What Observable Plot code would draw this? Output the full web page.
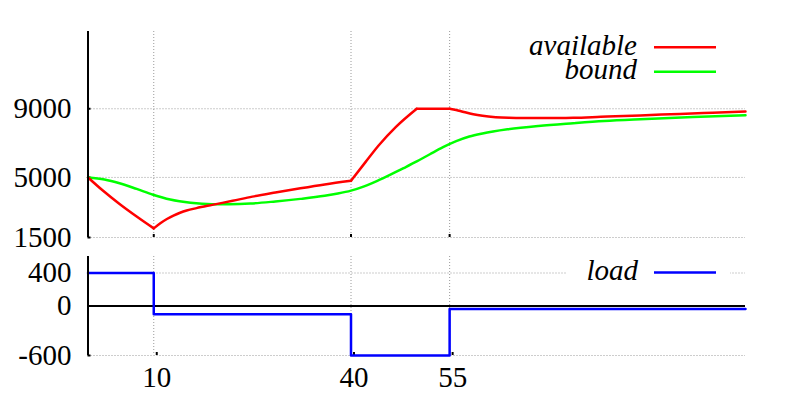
<!DOCTYPE html>
<html><head><meta charset="utf-8">
<script src="https://cdn.jsdelivr.net/npm/d3@7"></script>
<script src="https://cdn.jsdelivr.net/npm/@observablehq/plot@0.6"></script>
<style>
html,body{margin:0;padding:0;background:#fff;}
#chart{position:relative;width:789px;height:395px;overflow:hidden;font-family:"Liberation Serif",serif;}
#chart svg{position:absolute;left:0;}
</style></head><body><div id="chart"></div>
<script>
// ---- data ----
const xTicks = [10, 40, 55];
const topTicks = [1500, 5000, 9000];
const bottomTicks = [-600, 0, 400];
const seriesNames = ["available", "bound", "load"];
const seriesColors = ["#ff0000", "#00ff00", "#0000ff"];

// "available" has kinks at these x values
const availableCorners = [10, 40, 50, 55];
const availableX = [0, 2.3, 4.8, 7.4, 10, 11, 12, 13, 14, 15, 16.5, 18.9, 22, 25, 28.5, 32.3, 36, 40, 42.2, 44.2, 46.8, 50, 55, 56, 57, 58.6, 60, 62, 64, 66.2, 70, 73.8, 78, 84, 90, 95, 100];
const availableY = [5000, 4220, 3450, 2720, 2030, 2330, 2580, 2780, 2940, 3070, 3210, 3400, 3640, 3880, 4120, 4366, 4590, 4800, 5890, 6860, 7930, 9000, 9000, 8930, 8830, 8680, 8590, 8510, 8470, 8455, 8455, 8476, 8530, 8610, 8700, 8770, 8843];

const boundX = [0, 2.5, 4.8, 7.4, 9.9, 12.5, 15.6, 18.9, 21.5, 24.7, 28.5, 32.3, 36, 38, 40, 42, 44, 46, 48, 50, 52, 54, 56, 58, 60, 63.8, 68.5, 73.8, 78.5, 84, 92, 100];
const boundY = [5000, 4880, 4660, 4330, 3990, 3710, 3520, 3440, 3440, 3477, 3600, 3750, 3930, 4060, 4230, 4480, 4800, 5160, 5540, 5930, 6350, 6760, 7110, 7380, 7560, 7800, 8000, 8162, 8290, 8395, 8520, 8627];

const loadX = [0, 10, 40, 55, 100];
const loadY = [400, -100, -600, -35, -35];

// ---- tables ----
const available = [];
availableX.forEach((x, i) => {
  const seg = availableCorners.filter(c => c < x).length;
  available.push({x, y: availableY[i], seg});
  if (availableCorners.includes(x)) available.push({x, y: availableY[i], seg: seg + 1});
});
const bound = boundX.map((x, i) => ({x, y: boundY[i]}));
const load = loadX.map((x, i) => ({x, y: loadY[i]}));

const FONT = '"Liberation Serif", serif';
const grid = {stroke: "#9a9a9a", strokeWidth: 1, strokeDasharray: "1,2"};
const style = {fontFamily: FONT, fontSize: "29px", color: "#000", background: "transparent", overflow: "visible"};

const topPlot = Plot.plot({
  width: 789, height: 245,
  marginLeft: 87.5, marginRight: 44, marginTop: 31, marginBottom: 8,
  style,
  x: {domain: [0, 100]},
  y: {domain: [1500, 13500]},
  marks: [
    Plot.ruleY(topTicks, grid),
    Plot.ruleX(xTicks, grid),
    Plot.axisY(topTicks, {tickSize: -3, tickPadding: 19.5, strokeWidth: 2, tickFormat: d => String(d), label: null}),
    Plot.axisX(xTicks, {tickSize: -3, strokeWidth: 2, tickFormat: () => "", label: null}),
    Plot.line(bound, {x: "x", y: "y", stroke: seriesColors[1], strokeWidth: 2.5, curve: "monotone-x"}),
    Plot.line(available, {x: "x", y: "y", z: "seg", stroke: seriesColors[0], strokeWidth: 2.5, curve: "monotone-x"}),
    Plot.ruleX([0], {stroke: "#000", strokeWidth: 2})
  ]
});
topPlot.style.top = "0px";

const bottomPlot = Plot.plot({
  width: 789, height: 150,
  marginLeft: 87.5, marginRight: 44, marginTop: 11, marginBottom: 40,
  style,
  x: {domain: [0, 100]},
  y: {domain: [-600, 600]},
  marks: [
    Plot.ruleY(bottomTicks.filter(d => d !== 0), grid),
    Plot.ruleX(xTicks, grid),
    Plot.axisY(bottomTicks, {tickSize: -3, tickPadding: 19.5, strokeWidth: 2, tickFormat: d => String(d), label: null}),
    Plot.axisX(xTicks, {tickSize: -3, tickPadding: 14.4, strokeWidth: 2, dx: 3, tickFormat: d => String(d), label: null}),
    Plot.ruleY([0], {stroke: "#000", strokeWidth: 2}),
    Plot.line(load, {x: "x", y: "y", stroke: seriesColors[2], strokeWidth: 2.5, curve: "step-after"}),
    Plot.ruleX([0], {stroke: "#000", strokeWidth: 2})
  ]
});
bottomPlot.style.top = "245px";

const chart = document.getElementById("chart");
chart.appendChild(topPlot);
chart.appendChild(bottomPlot);

// ---- legends ----
const leg = d3.create("svg").attr("width", 789).attr("height", 395).style("top", "0px");
const entries = [
  {name: seriesNames[0], color: seriesColors[0], base: 55, line: 47.3, tx: 637},
  {name: seriesNames[1], color: seriesColors[1], base: 79.3, line: 71.7, tx: 637},
  {name: seriesNames[2], color: seriesColors[2], base: 280, line: 272.5, tx: 638, box: true}
];
entries.forEach(e => {
  if (e.box) leg.append("rect").attr("x", 566).attr("y", 262).attr("width", 164).attr("height", 20).attr("fill", "#fff");
  leg.append("text").attr("x", e.tx).attr("y", e.base).attr("text-anchor", "end")
    .style("font-family", FONT).style("font-style", "italic").style("font-size", "29px").text(e.name);
  leg.append("line").attr("x1", 654).attr("x2", 716).attr("y1", e.line).attr("y2", e.line)
    .attr("stroke", e.color).attr("stroke-width", 2.5);
});
chart.appendChild(leg.node());
</script>
</body></html>
